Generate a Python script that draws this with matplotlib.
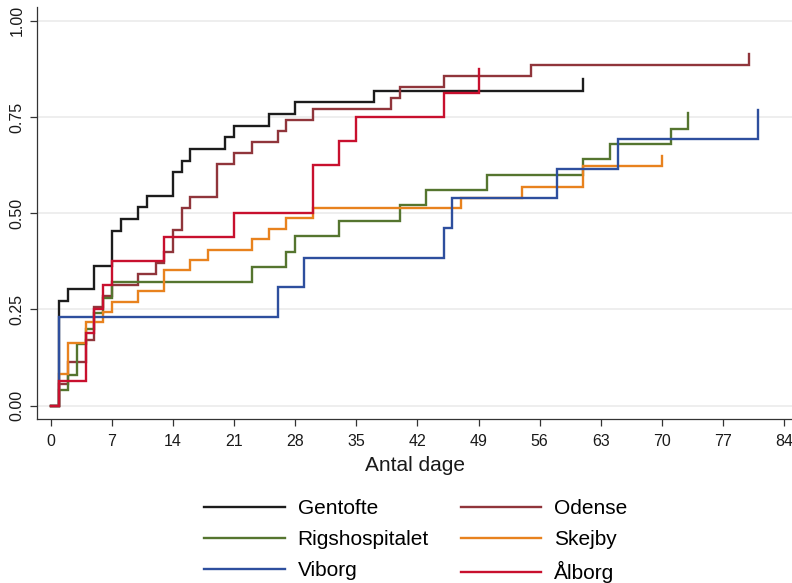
import matplotlib
matplotlib.use("Agg")
import matplotlib.pyplot as plt
import numpy as np

plt.rcParams['font.family'] = ['Liberation Sans', 'DejaVu Sans']

# Kaplan-Meier style cumulative curves (day, cumulative proportion)
gentofte_days = [0, 1, 2, 5, 7, 8, 10, 11, 14, 15, 16, 20, 21, 25, 28, 37, 61]
gentofte_vals = [0, 9, 10, 12, 15, 16, 17, 18, 20, 21, 22, 23, 24, 25, 26, 27, 28]
gentofte_n = 33

odense_days = [0, 1, 2, 4, 5, 6, 7, 10, 12, 13, 14, 15, 16, 19, 21, 23, 26, 27, 30, 39, 40, 45, 55, 80]
odense_vals = [0, 2, 4, 6, 9, 10, 11, 12, 13, 14, 16, 18, 19, 22, 23, 24, 25, 26, 27, 28, 29, 30, 31, 32]
odense_n = 35

rigs_days = [0, 1, 2, 3, 4, 5, 6, 7, 23, 27, 28, 33, 40, 43, 50, 61, 64, 71, 73]
rigs_vals = [0, 1, 2, 4, 5, 6, 7, 8, 9, 10, 11, 12, 13, 14, 15, 16, 17, 18, 19]
rigs_n = 25

skejby_days = [0, 1, 2, 4, 6, 7, 10, 13, 16, 18, 23, 25, 27, 30, 47, 54, 61, 70]
skejby_vals = [0, 3, 6, 8, 9, 10, 11, 13, 14, 15, 16, 17, 18, 19, 20, 21, 23, 24]
skejby_n = 37

viborg_days = [0, 1, 26, 29, 45, 46, 58, 65, 81]
viborg_vals = [0, 3, 4, 5, 6, 7, 8, 9, 10]
viborg_n = 13

alborg_days = [0, 1, 4, 5, 6, 7, 13, 21, 30, 33, 35, 45, 49]
alborg_vals = [0, 1, 3, 4, 5, 6, 7, 8, 10, 11, 12, 13, 14]
alborg_n = 16

labels = ["Gentofte", "Odense", "Rigshospitalet", "Skejby", "Viborg", "Ålborg"]
colors = ["#1C1C1C", "#90353B", "#55752F", "#E8821E", "#2E4F9E", "#C8102E"]

x_ticks = [0, 7, 14, 21, 28, 35, 42, 49, 56, 63, 70, 77, 84]
y_ticks = [0.0, 0.25, 0.5, 0.75, 1.0]
y_ticklabels = ["0.00", "0.25", "0.50", "0.75", "1.00"]

series = [
    (gentofte_days, gentofte_vals, gentofte_n),
    (odense_days, odense_vals, odense_n),
    (rigs_days, rigs_vals, rigs_n),
    (skejby_days, skejby_vals, skejby_n),
    (viborg_days, viborg_vals, viborg_n),
    (alborg_days, alborg_vals, alborg_n),
]

fig = plt.figure(figsize=(7.92, 5.83), dpi=100)
ax = fig.add_axes([0.0471, 0.2813, 0.9529, 0.7067])

handles = {}
for (d, v, n), lab, col in zip(series, labels, colors):
    y = np.array(v) / n
    h, = ax.step(d, y, where='post', color=col, lw=1.7, label=lab, solid_joinstyle='miter')
    handles[lab] = h

ax.set_xlim(-1.54, 84.9)
ax.set_ylim(-0.035, 1.036)
ax.set_xticks(x_ticks)
ax.set_yticks(y_ticks)
ax.set_yticklabels(y_ticklabels, rotation=90, va='center')
ax.tick_params(axis='both', direction='out', length=5, width=0.9, colors='#333333',
               labelsize=11.5, labelcolor='#1a1a1a')
ax.tick_params(axis='y', pad=4)
ax.tick_params(axis='x', pad=6)
for s in ['top', 'right']:
    ax.spines[s].set_visible(False)
for s in ['left', 'bottom']:
    ax.spines[s].set_color('#333333')
    ax.spines[s].set_linewidth(0.9)
ax.yaxis.grid(True, color='#EEEEEE', lw=1.4)
ax.set_axisbelow(True)
ax.set_xlabel("Antal dage", fontsize=15, color='#1a1a1a', labelpad=5)

order = ["Gentofte", "Rigshospitalet", "Viborg", "Odense", "Skejby", "Ålborg"]
leg = fig.legend([handles[k] for k in order], order, ncol=2, loc='center',
                 bbox_to_anchor=(0.5 + 20 / 792, 1 - 541 / 583), frameon=False, fontsize=15,
                 handlelength=3.85, handletextpad=0.62, columnspacing=1.55,
                 labelspacing=0.58)

fig.savefig("out.png", dpi=100, facecolor='white')
